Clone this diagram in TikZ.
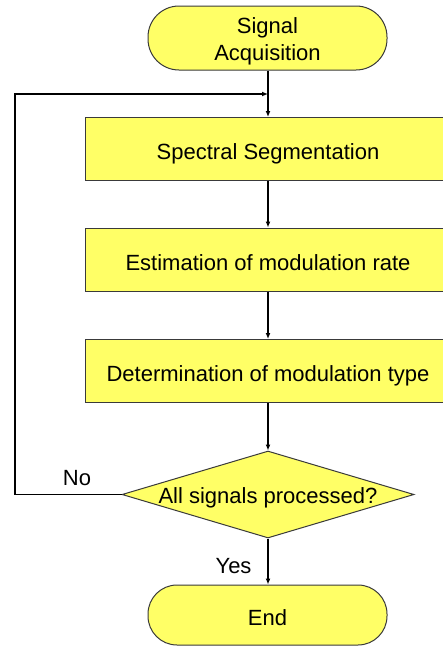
\documentclass[tikz,border=0pt]{standalone}
\usepackage{fontspec}
\setmainfont{Liberation Sans}
\usetikzlibrary{shapes.geometric,arrows.meta}
\definecolor{flowfill}{HTML}{FFFF66}
\definecolor{boxline}{HTML}{3A3A3A}
\begin{document}
\begin{tikzpicture}[x=1pt,y=-1pt,
  flowtext/.style={font=\fontsize{22}{27}\selectfont},
  oneline/.style={text height=23pt, text depth=2pt},
  terminal/.style={flowtext, draw=boxline, line width=1pt, fill=flowfill,
    minimum width=239pt, inner sep=0pt, align=center},
  stepbox/.style={flowtext, oneline, draw=boxline, line width=1pt, fill=flowfill,
    minimum width=366pt, minimum height=63pt, inner sep=0pt},
  decision/.style={flowtext, text height=17pt, text depth=0pt, diamond, draw=boxline,
    line width=1pt, fill=flowfill, aspect=3.36, minimum width=292pt,
    minimum height=87pt, inner sep=0pt},
  conn/.style={line width=1.8pt, -{Latex[length=6pt,width=5pt]}},
  lbl/.style={flowtext}]

  % page area; the process boxes run off the right edge
  \fill[white] (0,0) rectangle (443,648);
  \useasboundingbox (0,0) rectangle (443,648);
  \clip (0,0) rectangle (443,648);

  % flow elements
  \node[terminal, minimum height=64pt, rounded corners=31pt, text height=44pt, text depth=0pt] (start) at (267.5,38) {Signal\\Acquisition};
  \node[stepbox] (seg)  at (268,149)   {Spectral Segmentation};
  \node[stepbox] (rate) at (268,259.5) {Estimation of modulation rate};
  \node[stepbox] (type) at (268,371)   {Determination of modulation type};
  \node[decision] (done) at (268,494.5) {All signals processed?};
  \node[terminal, oneline, minimum height=60pt, rounded corners=29pt] (stop) at (267.5,615) {End};

  % junction where the loop rejoins the main line
  \coordinate (join) at (268,94);
  \coordinate (corner) at (15,494.5);

  % connectors
  \draw[line width=1.8pt] (join |- start.south) -- (join);
  \draw[conn] (join) -- (join |- seg.north);
  \draw[conn] (join |- seg.south) -- (join |- rate.north);
  \draw[conn] (join |- rate.south) -- (join |- type.north);
  \draw[conn] (done.north |- type.south) -- (done.north);
  \draw[conn] (done.south) -- (done.south |- stop.north);
  \draw[conn] (done.west) -- (corner) |- (join);

  % branch labels
  \node[lbl] (nolbl) at (77,478) {No};
  \node[lbl, anchor=east] (yeslbl) at (255,566) {Yes};
\end{tikzpicture}
\end{document}
